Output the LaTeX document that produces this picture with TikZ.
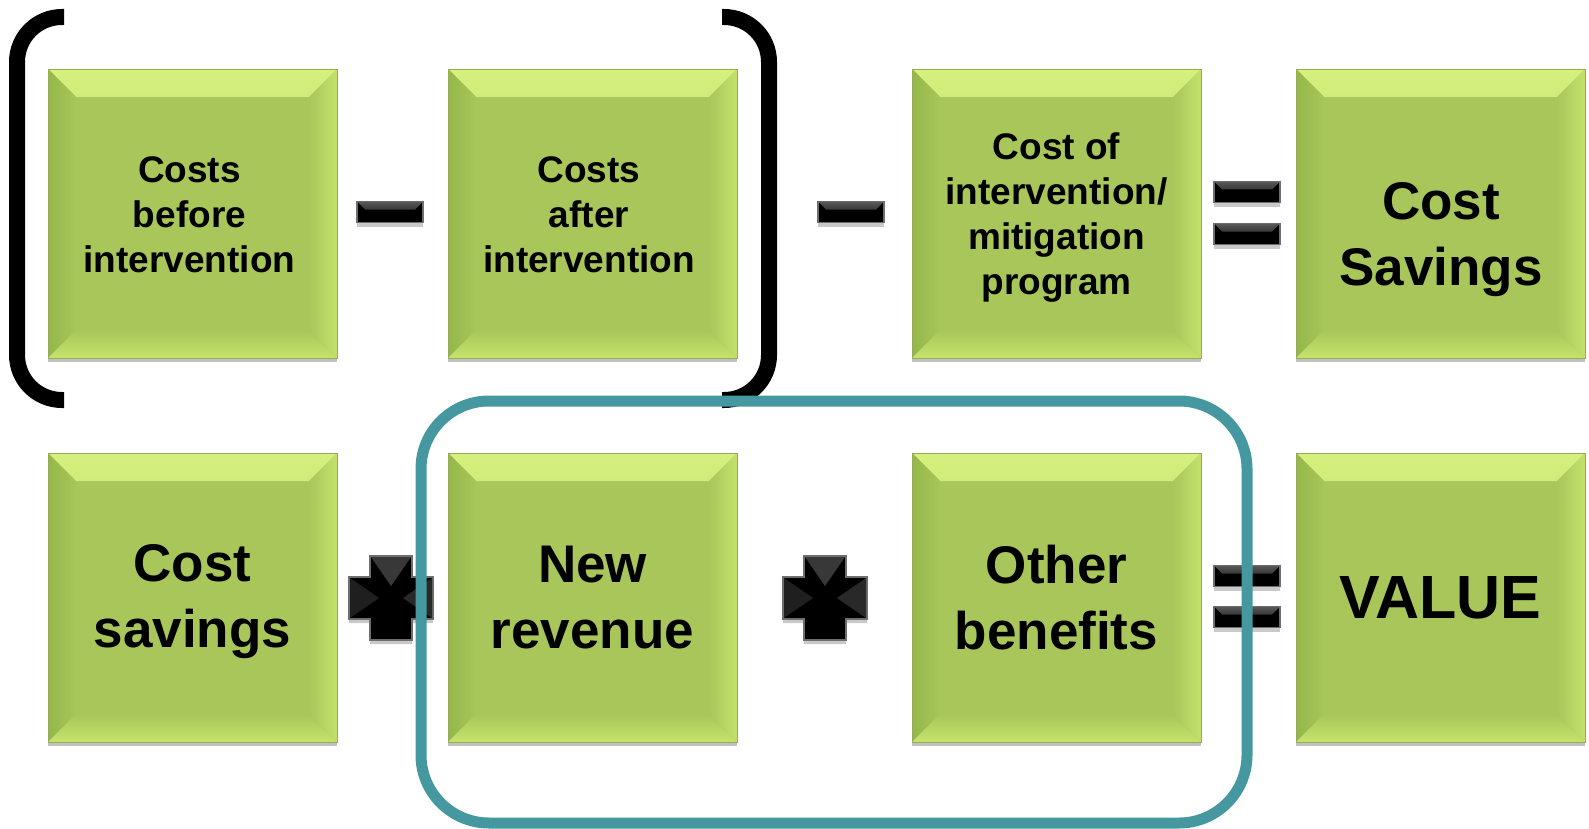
\documentclass[tikz,border=0pt]{standalone}
\usepackage{fontspec}
\setmainfont{Liberation Sans}
\usetikzlibrary{shadows}
\definecolor{boxgreen}{RGB}{168,198,90}
\definecolor{boxedge}{RGB}{150,172,90}
\definecolor{bevtop}{RGB}{214,240,126}
\definecolor{bevleft}{RGB}{150,182,74}
\definecolor{bevright}{RGB}{194,226,108}
\definecolor{bevbot}{RGB}{196,228,108}
\definecolor{tealc}{RGB}{70,152,160}
\definecolor{signedge}{RGB}{110,110,110}
\tikzset{
  gbox/.style={rectangle, minimum width=289pt, minimum height=289pt, inner sep=0pt,
    fill=boxgreen, draw=boxedge, line width=0.8pt, align=center, text=black,
    drop shadow={shadow xshift=0pt, shadow yshift=-4pt, opacity=0.35, fill=black!70},
    path picture={
      \shade[top color=bevtop, bottom color=boxgreen]
        (path picture bounding box.north west) -- (path picture bounding box.north east)
        -- ([xshift=-28pt,yshift=-28pt]path picture bounding box.north east)
        -- ([xshift=28pt,yshift=-28pt]path picture bounding box.north west) -- cycle;
      \shade[left color=bevleft, right color=boxgreen]
        (path picture bounding box.north west) -- ([xshift=28pt,yshift=-28pt]path picture bounding box.north west)
        -- ([xshift=28pt,yshift=28pt]path picture bounding box.south west)
        -- (path picture bounding box.south west) -- cycle;
      \shade[left color=boxgreen, right color=bevright]
        (path picture bounding box.north east) -- ([xshift=-28pt,yshift=-28pt]path picture bounding box.north east)
        -- ([xshift=-28pt,yshift=28pt]path picture bounding box.south east)
        -- (path picture bounding box.south east) -- cycle;
      \shade[top color=boxgreen, bottom color=bevbot]
        (path picture bounding box.south west) -- ([xshift=28pt,yshift=28pt]path picture bounding box.south west)
        -- ([xshift=-28pt,yshift=28pt]path picture bounding box.south east)
        -- (path picture bounding box.south east) -- cycle;
    }},
  midtext/.style={font=\fontsize{37pt}{45pt}\selectfont\bfseries},
  bigtext/.style={font=\fontsize{53pt}{66pt}\selectfont\bfseries},
  hugetext/.style={font=\fontsize{61pt}{70pt}\selectfont\bfseries},
  barsign/.style={rectangle, minimum width=66pt, minimum height=21pt, inner sep=0pt,
    fill=black, draw=signedge, line width=1.2pt,
    drop shadow={shadow xshift=0pt, shadow yshift=-4pt, opacity=0.3, fill=black!70},
    path picture={
      \shade[top color=black!65, bottom color=black]
        (path picture bounding box.north west) -- (path picture bounding box.north east)
        -- ([xshift=-8pt,yshift=-8pt]path picture bounding box.north east)
        -- ([xshift=8pt,yshift=-8pt]path picture bounding box.north west) -- cycle;
    }},
  crosssign/.style={fill=black, draw=signedge, line width=1.2pt,
    drop shadow={shadow xshift=0pt, shadow yshift=-4pt, opacity=0.3, fill=black!70}},
  bracketline/.style={draw=black, line width=16pt, rounded corners=45pt},
  tealline/.style={draw=tealc, line width=11pt, rounded corners=68pt},
}
\newcommand{\crossat}[1]{%
  \begin{scope}[shift={(#1)}]
    \path[crosssign] (-21,-42) -- (21,-42) -- (21,-21) -- (42,-21) -- (42,21) -- (21,21)
      -- (21,42) -- (-21,42) -- (-21,21) -- (-42,21) -- (-42,-21) -- (-21,-21) -- cycle;
    \fill[black!78] (-20,-41) -- (20,-41) -- (0,-12) -- cycle;
    \fill[black!88] (-41,-20) -- (-41,20) -- (-12,0) -- cycle;
    \fill[black!84] (41,-20) -- (41,20) -- (12,0) -- cycle;
  \end{scope}}
\begin{document}
\begin{tikzpicture}[x=1pt,y=-1pt]
\useasboundingbox (0,0) rectangle (1589,829);
% boxes, row 1
\node[gbox, midtext, text depth=0pt] (b1) at (192.5,213.5) {};
\node[midtext, align=center] (t1) at (189.5,214.5) {Costs\\before\\intervention};
\node[gbox] (b2) at (592.5,213.5) {};
\node[midtext, align=center] (t2) at (589,214.5) {Costs\\after\\intervention};
\node[gbox] (b3) at (1056.5,213.5) {};
\node[midtext, align=center] (t3) at (1056.5,218) {Cost of\\intervention/\\mitigation\\program};
\node[gbox] (b4) at (1440.5,213.5) {};
\node[bigtext, align=center] (t4) at (1441,240) {Cost\\Savings};
% boxes, row 2
\node[gbox] (c1) at (192.5,597.5) {};
\node[bigtext, align=center] (u1) at (192.5,602) {Cost\\savings};
\node[gbox, bigtext] (c2) at (592.5,597.5) {New\\revenue};
\node[gbox, bigtext] (c3) at (1056.5,597.5) {Other\\benefits};
\node[gbox, hugetext] (c4) at (1440.5,597.5) {VALUE};
% signs
\node[barsign] (m1) at (390,212) {};
\node[barsign] (m2) at (851,212) {};
\node[barsign] (e1a) at (1247,192) {};
\node[barsign] (e1b) at (1247,234) {};
\node[barsign] (e2a) at (1247,576) {};
\node[barsign] (e2b) at (1247,617) {};
\coordinate (p1) at (391,598);
\coordinate (p2) at (825,598);
\crossat{p1}
\crossat{p2}
% brackets
\coordinate (lbt) at (64,17);
\coordinate (lbb) at (64,400);
\coordinate (rbt) at (722,17);
\coordinate (rbb) at (722,400);
\draw[bracketline] (lbt) -- (17,17) -- (17,400) -- (lbb);
\draw[bracketline] (rbt) -- (769,17) -- (769,400) -- (rbb);
% teal frame
\coordinate (tnw) at (421,401);
\coordinate (tse) at (1247,823);
\draw[tealline] (tnw) rectangle (tse);
\end{tikzpicture}
\end{document}
